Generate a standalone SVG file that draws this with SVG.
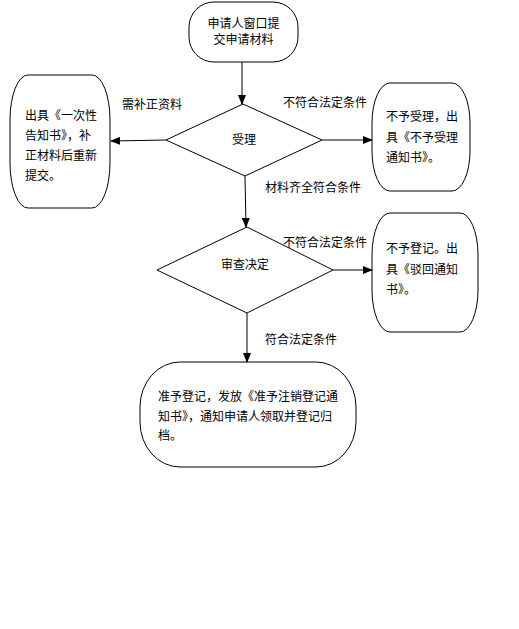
<svg xmlns="http://www.w3.org/2000/svg" width="519" height="629" viewBox="0 0 519 629">
<defs>
<marker id="ah" markerWidth="10" markerHeight="8" refX="9" refY="4" orient="auto" markerUnits="userSpaceOnUse">
<path d="M0,0 L10,4 L0,8 Z" fill="#000"/>
</marker>
<style>
.n{fill:#fff;stroke:#000;stroke-width:1}
.t{font-family:"Noto Sans CJK SC","Liberation Sans",sans-serif;font-size:12px;fill:#000}
.c{fill:none;stroke:#000;stroke-width:1;marker-end:url(#ah)}
</style>
</defs>
<rect width="519" height="629" fill="#fff"/>
<g id="start">
<rect class="n" x="189" y="2" width="109" height="60" rx="25" ry="25"/>
<text class="t" x="243.5" y="28" text-anchor="middle">申请人窗口提</text>
<text class="t" x="243.5" y="44" text-anchor="middle">交申请材料</text>
</g>
<g id="accept">
<polygon class="n" points="243,104 322,140 245,176 166,140"/>
<text class="t" x="244" y="144" text-anchor="middle">受理</text>
</g>
<g id="supplement">
<rect class="n" x="10" y="75" width="100" height="133" rx="18" ry="45"/>
<text class="t" x="25" y="120">出具《一次性</text>
<text class="t" x="25" y="140">告知书》，补</text>
<text class="t" x="25" y="160">正材料后重新</text>
<text class="t" x="25" y="180">提交。</text>
</g>
<g id="reject1">
<rect class="n" x="372" y="83" width="98" height="108" rx="18" ry="40"/>
<text class="t" x="386" y="121">不予受理，出</text>
<text class="t" x="386" y="142">具《不予受理</text>
<text class="t" x="386" y="162">通知书》。</text>
</g>
<g id="review">
<polygon class="n" points="247,227 333,270 247,313 157,270"/>
<text class="t" x="245" y="269" text-anchor="middle">审查决定</text>
</g>
<g id="reject2">
<rect class="n" x="372" y="213" width="106" height="119" rx="18" ry="42"/>
<text class="t" x="386" y="253">不予登记。出</text>
<text class="t" x="386" y="274">具《驳回通知</text>
<text class="t" x="386" y="294">书》。</text>
</g>
<g id="approve">
<rect class="n" x="140" y="362" width="216" height="105" rx="40" ry="45"/>
<text class="t" x="158" y="401">准予登记，发放《准予注销登记通</text>
<text class="t" x="158" y="421">知书》，通知申请人领取并登记归</text>
<text class="t" x="158" y="440">档。</text>
</g>
<g id="connectors">
<line class="c" x1="242" y1="62" x2="242" y2="104"/>
<line class="c" x1="166" y1="140" x2="111" y2="141"/>
<line class="c" x1="322" y1="140" x2="372" y2="140"/>
<line class="c" x1="245" y1="176" x2="246" y2="227"/>
<line class="c" x1="333" y1="270" x2="372" y2="270"/>
<line class="c" x1="247" y1="313" x2="247" y2="362"/>
<text class="t" x="122" y="109">需补正资料</text>
<text class="t" x="283" y="107">不符合法定条件</text>
<text class="t" x="265" y="192">材料齐全符合条件</text>
<text class="t" x="283" y="247">不符合法定条件</text>
<text class="t" x="265" y="344">符合法定条件</text>
</g>
</svg>
